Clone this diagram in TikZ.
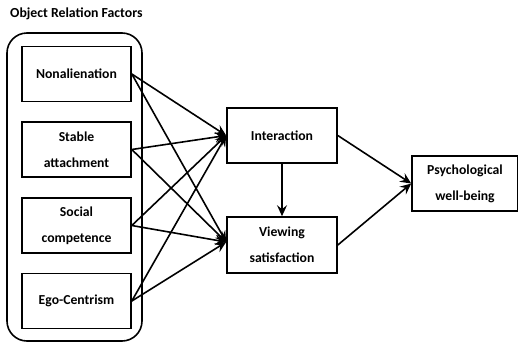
\documentclass[tikz,border=0pt]{standalone}
\usepackage{fontspec}
\setmainfont{Carlito}
\usetikzlibrary{arrows.meta}
\begin{document}
\begin{tikzpicture}[x=1pt,y=-1pt,
  box/.style={draw,line width=1.6pt,minimum width=109pt,minimum height=55pt,inner sep=0pt,align=center,
     font=\fontsize{13.7}{26}\selectfont\bfseries},
  arr/.style={line width=1.6pt,-{Stealth[length=11pt,width=10pt,inset=4pt]}}]
\useasboundingbox (0,0) rectangle (518,343);
\node[anchor=west,font=\fontsize{13.8}{15}\selectfont\bfseries,inner sep=0pt] (title) at (10,14) {Object Relation Factors};
\node[draw,line width=1.6pt,rounded corners=20pt,minimum width=135pt,minimum height=308pt,inner sep=0pt] (grp) at (74.5,187) {};
\node[box] (na) at (76.5,74) {Nonalienation};
\node[box] (sa) at (76.5,149.5) {Stable\\attachment};
\node[box] (sc) at (76.5,225.5) {Social\\competence};
\node[box] (ec) at (76.5,301) {Ego-Centrism};
\node[box,minimum width=110pt] (int) at (282,135.5) {Interaction};
\node[box,minimum width=110pt,minimum height=56pt] (vs) at (282,245) {Viewing\\satisfaction};
\node[box,minimum width=106pt] (pw) at (465,183.5) {Psychological\\well-being};
\foreach \s in {na,sa,sc,ec}{
  \draw[arr] (\s.east) -- (int.west);
  \draw[arr] (\s.east) -- ([yshift=3pt]vs.west);
}
\draw[arr] (int.south) -- (vs.north);
\draw[arr] (int.east) -- (pw.west);
\draw[arr] (vs.east) -- (pw.west);
\end{tikzpicture}
\end{document}
